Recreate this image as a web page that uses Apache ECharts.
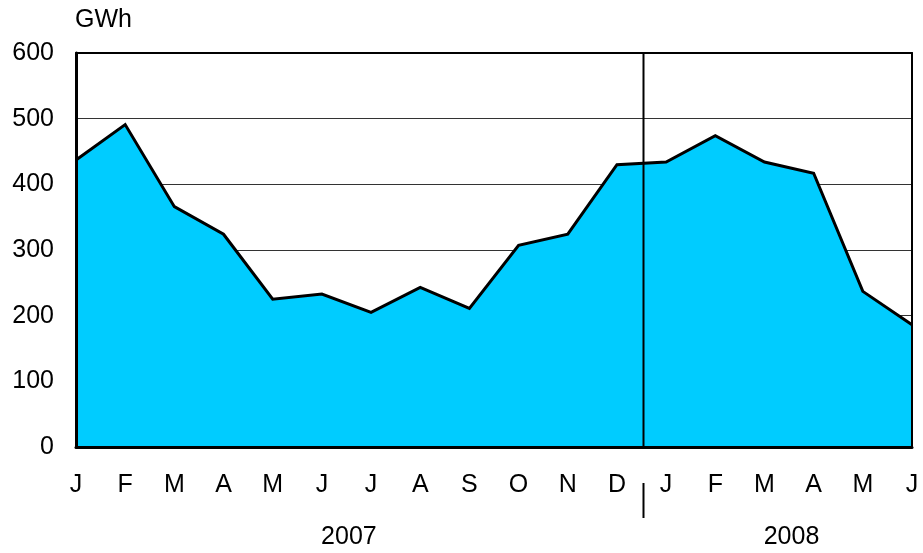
<!DOCTYPE html>
<html>
<head>
<meta charset="utf-8">
<script src="https://cdn.jsdelivr.net/npm/echarts@6/dist/echarts.min.js"></script>
<style>html,body{margin:0;padding:0;background:#fff}#c{width:923px;height:553px}</style>
</head>
<body>
<div id="c"></div>
<script>
const months = ['J','F','M','A','M','J','J','A','S','O','N','D','J','F','M','A','M','J'];
const values = [437, 491, 366, 324, 225, 233, 205, 243, 211, 307, 324, 430, 434, 474, 434, 417, 237, 186];
const years = ['2007', '2008'];
const yearStart = [0, 12];
const yearEnd = [11, 17];
const yTicks = [0, 100, 200, 300, 400, 500, 600];
const unitLabel = 'GWh';
const separatorAt = 11.54;

const FONT = 'Liberation Sans, Arial, sans-serif';
const FS = 25;
const yMin = yTicks[0], yMax = yTicks[yTicks.length - 1];
const chart = echarts.init(document.getElementById('c'));
chart.setOption({
  animation: false,
  grid: { left: 76, right: 11, top: 53, bottom: 106, show: false, containLabel: false },
  xAxis: [{
    type: 'category', data: months, boundaryGap: false,
    axisLine: { show: false },
    axisTick: { show: false },
    axisLabel: { color: '#000', fontSize: FS, fontFamily: FONT, margin: 26, interval: 0 },
    splitLine: { show: false }
  }, {
    type: 'value', min: 0, max: months.length - 1, show: false
  }, {
    type: 'value', min: 0, max: 1, position: 'bottom', z: 10,
    axisLine: { show: true, onZero: false, lineStyle: { color: '#000', width: 3 } },
    axisTick: { show: false }, axisLabel: { show: false }, splitLine: { show: false }
  }, {
    type: 'value', min: 0, max: 1, position: 'top', z: 10,
    axisLine: { show: true, onZero: false, lineStyle: { color: '#000', width: 2 } },
    axisTick: { show: false }, axisLabel: { show: false }, splitLine: { show: false }
  }],
  yAxis: [{
    type: 'value', min: yMin, max: yMax, interval: 100,
    axisLine: { show: false },
    axisTick: { show: false },
    axisLabel: { color: '#000', fontSize: FS, fontFamily: FONT, margin: 22 },
    splitLine: { show: true, lineStyle: { color: '#333', width: 1 } }
  }, {
    type: 'value', min: 0, max: 1, position: 'left', z: 10,
    axisLine: { show: true, onZero: false, lineStyle: { color: '#000', width: 3 } },
    axisTick: { show: false }, axisLabel: { show: false }, splitLine: { show: false }
  }, {
    type: 'value', min: 0, max: 1, position: 'right', z: 10,
    axisLine: { show: true, onZero: false, lineStyle: { color: '#000', width: 2 } },
    axisTick: { show: false }, axisLabel: { show: false }, splitLine: { show: false }
  }],
  series: [{
    type: 'line', data: values, symbol: 'none',
    lineStyle: { color: '#000', width: 3, join: 'miter' },
    areaStyle: { color: '#00CCFF', opacity: 1 },
    z: 2
  }, {
    type: 'line', xAxisIndex: 1, symbol: 'none',
    data: [[separatorAt, yMin], [separatorAt, yMax]],
    lineStyle: { color: '#000', width: 2 }, z: 5
  }]
});

const g = [];
const p0 = chart.convertToPixel({ xAxisIndex: 1, yAxisIndex: 0 }, [separatorAt, 0]);
g.push({ type: 'line', shape: { x1: p0[0], y1: p0[1] + 36, x2: p0[0], y2: p0[1] + 71 }, style: { stroke: '#000', lineWidth: 2 } });
years.forEach((y, i) => {
  const mid = (yearStart[i] + yearEnd[i]) / 2 + 0.05;
  const p = chart.convertToPixel({ xAxisIndex: 1, yAxisIndex: 0 }, [mid, 0]);
  g.push({ type: 'text', x: p[0], y: p[1] + 90, style: { text: y, fill: '#000', font: FS + 'px ' + FONT, textAlign: 'center', textVerticalAlign: 'middle' } });
});
g.push({ type: 'text', x: 75, y: 20, style: { text: unitLabel, fill: '#000', font: FS + 'px ' + FONT, textAlign: 'left', textVerticalAlign: 'middle' } });
chart.setOption({ graphic: g });
</script>
</body>
</html>
